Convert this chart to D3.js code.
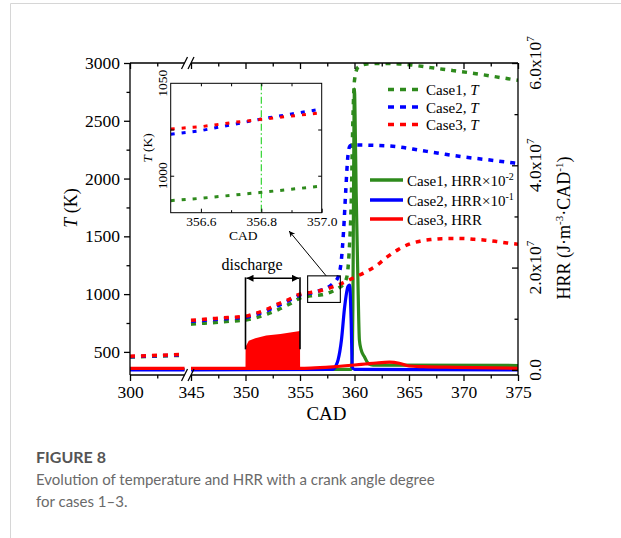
<!DOCTYPE html>
<html lang="en">
<head>
<meta charset="UTF-8" />
<title>Figure 8</title>
<script src="https://cdn.jsdelivr.net/npm/d3@7"></script>
<style>
    body { margin: 0; background: #fff; }
    svg text { font-family: "Liberation Serif", "Times New Roman", serif; fill: #000; }
    .cap { font-family: Lato, "Open Sans", sans-serif !important; }
</style>
</head>
<body>
<svg id="chart" width="621" height="538"></svg>
<script>
// ---- data (HRR in units of 1e6 J·m-3·CAD-1) ----
const cadT1 = [300, 302.5, 305, 345, 346, 347, 348, 349, 350, 351, 352, 353, 354, 355, 356, 357, 358, 358.5, 359, 359.3, 359.5, 359.7, 359.85, 360, 360.3, 361, 362, 363, 365, 367, 369, 371, 373, 375];
const tCase1 = [455, 463, 471, 740, 748, 753, 761, 768, 776, 797, 828, 866, 912, 965, 985, 994, 1025, 1050, 1090, 1150, 1350, 1800, 2500, 2850, 2960, 2990, 2995, 2995, 2985, 2960, 2935, 2910, 2880, 2850];

const cadT2 = [300, 302.5, 305, 345, 346, 347, 348, 349, 350, 351, 352, 353, 354, 355, 356, 357, 357.5, 358, 358.5, 358.8, 359, 359.2, 359.4, 359.6, 360, 362, 364, 366, 368, 370, 372, 375];
const tCase2 = [458, 466, 474, 765, 772, 780, 787, 792, 800, 825, 858, 900, 945, 992, 1010, 1036, 1055, 1090, 1150, 1300, 1550, 1900, 2200, 2285, 2290, 2287, 2275, 2245, 2215, 2187, 2165, 2130];

const cadT3 = [300, 302.5, 305, 345, 346, 347, 348, 349, 350, 351, 352, 353, 354, 355, 356, 357, 358, 359, 360, 361, 362, 363, 364, 365, 366, 367, 368, 369, 370, 371, 372, 373, 374, 375];
const tCase3 = [462, 470, 478, 774, 780, 789, 795, 800, 809, 835, 870, 915, 955, 1000, 1015, 1034, 1062, 1100, 1145, 1190, 1245, 1322, 1385, 1432, 1458, 1472, 1480, 1482, 1481, 1474, 1467, 1456, 1443, 1432];

const cadH1 = [300, 305, 345, 359.7, 359.8, 359.85, 359.9, 359.95, 360, 360.05, 360.15, 360.3, 360.45, 360.6, 360.9, 361.3, 361.7, 375];
const hrr1 = [0.1, 0.1, 0.1, 0.1, 3, 12, 30, 48, 54.9, 50, 35, 18.9, 5.8, 4, 2.6, 1.2, 0.95, 0.86];

const cadH2 = [300, 305, 345, 358.0, 358.3, 358.5, 358.8, 359.1, 359.4, 359.55, 359.7, 359.8, 360, 375];
const hrr2 = [0, 0, 0, 0.1, 0.8, 2, 5.8, 12.4, 16.3, 16.6, 9, 0.5, 0.1, 0];

const cadH3 = [300, 305, 345, 350, 355, 356, 358, 360, 361, 362, 363.2, 364.1, 365, 366.3, 369.3, 375];
const hrr3 = [0.3, 0.3, 0.3, 0.3, 0.3, 0.35, 0.6, 0.95, 1.15, 1.35, 1.5, 1.3, 0.76, 0.63, 0.5, 0.3];

// upper envelope of the discharge spikes (case 3)
const cadDis = [350, 350.01, 350.3, 350.9, 351.9, 353.2, 354.1, 355, 355.01];
const hrrDis = [0.3, 4.5, 5.7, 6.2, 6.7, 7.0, 7.3, 7.6, 0.3];

// inset
const cadIn = [356.5, 356.6, 356.7, 356.8, 356.9, 357.0];
const tIn1 = [986.5, 987.8, 989.4, 991, 992.7, 994.4];
const tIn2 = [1022.4, 1024.4, 1027.5, 1030.7, 1033.4, 1036.1];
const tIn3 = [1025.3, 1026.5, 1028.7, 1030.5, 1032.3, 1034.1];

const xMajor = [300, 345, 350, 355, 360, 365, 370, 375];
const xMinor = [302.5, 347.5, 352.5, 357.5, 362.5, 367.5, 372.5];
const tMajor = [500, 1000, 1500, 2000, 2500, 3000];
const tMinor = [750, 1250, 1750, 2250, 2750];
const hMajor = [0, 20, 40, 60];
const hMinor = [10, 30, 50];
const hLabels = ["0.0", "2.0x10", "4.0x10", "6.0x10"];

const green = "#2e8a1c", blue = "#0000ff", red = "#ff0000";

const svg = d3.select("#chart");

// card border
svg.append("path").attr("d", "M10.5,538 V3.5 H621").attr("fill", "none").attr("stroke", "#d6d6d6");

const L = 130, R = 518, T = 63, B = 375;
const x = d3.scaleLinear().domain([300, 305, 345, 375]).range([L, 184.5, 191, R]);
const yT = d3.scaleLinear().domain([300, 3000]).range([B, T]);
const yH = d3.scaleLinear().domain([-1, 60]).range([B, T]);

svg.append("clipPath").attr("id", "plot").append("rect")
    .attr("x", L).attr("y", T).attr("width", R - L).attr("height", B - T);

const zip = (a, b) => a.map((v, i) => [v, b[i]]);
// split a series around the axis break
const parts = pts => [pts.filter(d => d[0] <= 305), pts.filter(d => d[0] >= 345)];

const plot = svg.append("g").attr("clip-path", "url(#plot)");

const lineT = d3.line().x(d => x(d[0])).y(d => yT(d[1])).curve(d3.curveMonotoneX);
const lineH = d3.line().x(d => x(d[0])).y(d => yH(d[1])).curve(d3.curveMonotoneX);

// discharge spikes
plot.append("path")
    .datum(zip(cadDis, hrrDis))
    .attr("fill", red)
    .attr("d", d3.area().x(d => x(d[0])).y0(yH(0.3)).y1(d => yH(d[1])));

[[cadH1, hrr1, green], [cadH2, hrr2, blue], [cadH3, hrr3, red]].forEach(([c, v, col]) => {
    parts(zip(c, v)).forEach(p => {
        plot.append("path").datum(p)
            .attr("fill", "none").attr("stroke", col).attr("stroke-width", 3.2)
            .attr("d", lineH);
    });
});

[[cadT1, tCase1, green], [cadT2, tCase2, blue], [cadT3, tCase3, red]].forEach(([c, v, col]) => {
    parts(zip(c, v)).forEach(p => {
        plot.append("path").datum(p)
            .attr("fill", "none").attr("stroke", col).attr("stroke-width", 3.5)
            .attr("stroke-dasharray", "5,6")
            .attr("d", lineT);
    });
});

// ---- axes ----
const axisStyle = g => {
    g.select(".domain").remove();
    g.selectAll("line").attr("stroke", "#000").attr("stroke-width", 1.3);
    g.selectAll("text").attr("font-size", "17.5px").attr("font-family", "Liberation Serif, serif");
};

svg.append("g").attr("transform", `translate(0,${B})`)
    .call(d3.axisBottom(x).tickValues(xMajor).tickSize(6).tickPadding(5).tickFormat(d3.format("d")))
    .call(axisStyle);
svg.append("g").attr("transform", `translate(0,${B})`)
    .call(d3.axisBottom(x).tickValues(xMinor).tickSize(3.5).tickFormat(""))
    .call(axisStyle);
svg.append("g").attr("transform", `translate(0,${T})`)
    .call(d3.axisTop(x).tickValues(xMajor).tickSize(-6).tickFormat(""))
    .call(axisStyle);
svg.append("g").attr("transform", `translate(0,${T})`)
    .call(d3.axisTop(x).tickValues(xMinor).tickSize(-3.5).tickFormat(""))
    .call(axisStyle);

svg.append("g").attr("transform", `translate(${L},0)`)
    .call(d3.axisLeft(yT).tickValues(tMajor).tickSize(6).tickPadding(4).tickFormat(d3.format("d")))
    .call(axisStyle);
svg.append("g").attr("transform", `translate(${L},0)`)
    .call(d3.axisLeft(yT).tickValues(tMinor).tickSize(3.5).tickFormat(""))
    .call(axisStyle);

svg.append("g").attr("transform", `translate(${R},0)`)
    .call(d3.axisRight(yH).tickValues(hMajor).tickSize(-6).tickFormat(""))
    .call(axisStyle);
svg.append("g").attr("transform", `translate(${R},0)`)
    .call(d3.axisRight(yH).tickValues(hMinor).tickSize(-3.5).tickFormat(""))
    .call(axisStyle);

// axis lines with the break between 305 and 345
const frame = svg.append("g").attr("stroke", "#000").attr("stroke-width", 1.3).attr("fill", "none");
[B, T].forEach(yy => {
    frame.append("path").attr("d", `M${L},${yy}H${x(305)}M${x(345)},${yy}H${R}`);
    [x(305), x(345)].forEach(xx => {
        frame.append("path").attr("d", `M${xx - 3},${yy + 6}L${xx + 3},${yy - 6}`);
    });
});
frame.append("path").attr("d", `M${L},${T}V${B}M${R},${T}V${B}`);

// right tick labels
hMajor.forEach((v, i) => {
    const t = svg.append("text")
        .attr("transform", `translate(541,${yH(v)}) rotate(-90)`)
        .attr("text-anchor", "middle").attr("font-size", "17.5px");
    t.append("tspan").text(hLabels[i]);
    if (i > 0) t.append("tspan").attr("dy", -7).attr("font-size", "11px").text("7");
});

// axis titles
svg.append("text").attr("x", x(360) - 28).attr("y", 420)
    .attr("text-anchor", "middle").attr("font-size", "19px").text("CAD");
const tl = svg.append("text").attr("transform", "translate(77,208) rotate(-90)")
    .attr("text-anchor", "middle").attr("font-size", "18px");
tl.append("tspan").attr("font-style", "italic").text("T");
tl.append("tspan").text(" (K)");
const rt = svg.append("text").attr("transform", "translate(570,228) rotate(-90)")
    .attr("text-anchor", "middle").attr("font-size", "18px");
rt.append("tspan").text("HRR (J·m");
rt.append("tspan").attr("dy", -7).attr("font-size", "11px").text("-3");
rt.append("tspan").attr("dy", 7).text("·CAD");
rt.append("tspan").attr("dy", -7).attr("font-size", "11px").text("-1");
rt.append("tspan").attr("dy", 7).text(")");

// ---- legend ----
const legT = [["Case1, ", green, 89.5], ["Case2, ", blue, 107], ["Case3, ", red, 124.5]];
legT.forEach(([lab, col, yy]) => {
    svg.append("line").attr("x1", 388).attr("x2", 421).attr("y1", yy).attr("y2", yy)
        .attr("stroke", col).attr("stroke-width", 3.5).attr("stroke-dasharray", "6,6");
    const t = svg.append("text").attr("x", 426).attr("y", yy + 5.5).attr("font-size", "15px");
    t.append("tspan").text(lab);
    t.append("tspan").attr("font-style", "italic").text("T");
});
const legH = [["Case1, HRR×10", "-2", green, 180], ["Case2, HRR×10", "-1", blue, 200], ["Case3, HRR", "", red, 219]];
legH.forEach(([lab, sup, col, yy]) => {
    svg.append("line").attr("x1", 370).attr("x2", 403).attr("y1", yy).attr("y2", yy)
        .attr("stroke", col).attr("stroke-width", 3.5);
    const t = svg.append("text").attr("x", 407).attr("y", yy + 5.5).attr("font-size", "15px");
    t.append("tspan").text(lab);
    if (sup) t.append("tspan").attr("dy", -6).attr("font-size", "10px").text(sup);
});

// ---- discharge annotation ----
svg.append("defs").html(`
  <marker id="ah" viewBox="0 0 10 10" refX="10" refY="5" markerWidth="8" markerHeight="7" markerUnits="userSpaceOnUse" orient="auto-start-reverse">
    <path d="M0,0 L10,5 L0,10 z" fill="#000"/>
  </marker>
  <marker id="ah2" viewBox="0 0 10 10" refX="10" refY="5" markerWidth="9" markerHeight="6" markerUnits="userSpaceOnUse" orient="auto">
    <path d="M0,0 L10,5 L0,10 L3,5 z" fill="#000"/>
  </marker>`);
const ann = svg.append("g").attr("stroke", "#000").attr("stroke-width", 1.6);
[350, 355].forEach(c => {
    ann.append("line").attr("x1", x(c)).attr("x2", x(c)).attr("y1", yT(1145)).attr("y2", yT(522));
});
ann.append("line").attr("x1", x(350) + 1).attr("x2", x(355) - 1).attr("y1", yT(1137)).attr("y2", yT(1137))
    .attr("marker-start", "url(#ah)").attr("marker-end", "url(#ah)");
svg.append("text").attr("x", x(350.6)).attr("y", yT(1209))
    .attr("text-anchor", "middle").attr("font-size", "16px").text("discharge");

// zoom box and arrow
svg.append("rect").attr("x", x(355.7)).attr("y", yT(1158))
    .attr("width", x(358.7) - x(355.7)).attr("height", yT(928) - yT(1158))
    .attr("fill", "none").attr("stroke", "#000").attr("stroke-width", 1.1);
svg.append("line").attr("x1", x(357.4)).attr("y1", yT(1158)).attr("x2", x(354.0)).attr("y2", yT(1546))
    .attr("stroke", "#000").attr("stroke-width", 1).attr("marker-end", "url(#ah2)");

// ---- inset ----
const xi = d3.scaleLinear().domain([356.5, 357.0]).range([170.7, 321.7]);
const yi = d3.scaleLinear().domain([980, 1050]).range([212.7, 83.3]);
const inset = svg.append("g");
inset.append("rect").attr("x", 170.7).attr("y", 83.3).attr("width", 151).attr("height", 129.4).attr("fill", "#fff");
svg.append("clipPath").attr("id", "insetClip").append("rect")
    .attr("x", 170.7).attr("y", 83.3).attr("width", 151).attr("height", 129.4);
const ip = inset.append("g").attr("clip-path", "url(#insetClip)");
ip.append("line").attr("x1", xi(356.8)).attr("x2", xi(356.8)).attr("y1", 83.3).attr("y2", 212.7)
    .attr("stroke", "#1fd01f").attr("stroke-width", 1.1).attr("stroke-dasharray", "7,2.5,1.5,2.5");
const lineI = d3.line().x(d => xi(d[0])).y(d => yi(d[1]));
[[tIn1, green], [tIn2, blue], [tIn3, red]].forEach(([v, col]) => {
    ip.append("path").datum(zip(cadIn, v)).attr("fill", "none").attr("stroke", col)
        .attr("stroke-width", 3).attr("stroke-dasharray", "4,7").attr("d", lineI);
});
const smallStyle = g => {
    g.select(".domain").remove();
    g.selectAll("line").attr("stroke", "#000").attr("stroke-width", 1);
    g.selectAll("text").attr("font-size", "13.5px").attr("font-family", "Liberation Serif, serif");
};
inset.append("g").attr("transform", "translate(0,212.7)")
    .call(d3.axisBottom(xi).tickValues([356.6, 356.8, 357.0]).tickSize(-4).tickPadding(4).tickFormat(d3.format(".1f")))
    .call(smallStyle);
inset.append("g").attr("transform", "translate(0,212.7)")
    .call(d3.axisBottom(xi).tickValues([356.7, 356.9]).tickSize(-2.5).tickFormat(""))
    .call(smallStyle);
inset.append("g").attr("transform", "translate(0,83.3)")
    .call(d3.axisTop(xi).tickValues([356.6, 356.7, 356.8, 356.9]).tickSize(-3).tickFormat(""))
    .call(smallStyle);
inset.append("g").attr("transform", "translate(170.7,0)")
    .call(d3.axisLeft(yi).tickValues([1000, 1025]).tickSize(-3.5).tickFormat(""))
    .call(smallStyle);
inset.append("g").attr("transform", "translate(321.7,0)")
    .call(d3.axisRight(yi).tickValues([1000, 1025]).tickSize(-3.5).tickFormat(""))
    .call(smallStyle);
inset.append("rect").attr("x", 170.7).attr("y", 83.3).attr("width", 151).attr("height", 129.4)
    .attr("fill", "none").attr("stroke", "#000").attr("stroke-width", 1);
[1000, 1050].forEach(v => {
    inset.append("text").attr("transform", `translate(167,${yi(v)}) rotate(-90)`)
        .attr("text-anchor", "middle").attr("font-size", "13.5px").text(v);
});
inset.append("text").attr("x", xi(356.74)).attr("y", 240).attr("text-anchor", "middle")
    .attr("font-size", "13.5px").text("CAD");
const it = inset.append("text").attr("transform", "translate(151.5,148) rotate(-90)")
    .attr("text-anchor", "middle").attr("font-size", "13.5px");
it.append("tspan").attr("font-style", "italic").text("T");
it.append("tspan").text(" (K)");

// ---- caption ----
svg.append("text").attr("class", "cap").attr("x", 36).attr("y", 463)
    .attr("font-size", "16px").attr("font-weight", 700).style("fill", "#555").text("FIGURE 8");
svg.append("text").attr("class", "cap").attr("x", 36).attr("y", 485)
    .attr("font-size", "15px").style("fill", "#6a6a6a").text("Evolution of temperature and HRR with a crank angle degree");
svg.append("text").attr("class", "cap").attr("x", 36).attr("y", 507)
    .attr("font-size", "15px").style("fill", "#6a6a6a").text("for cases 1–3.");
</script>
</body>
</html>
